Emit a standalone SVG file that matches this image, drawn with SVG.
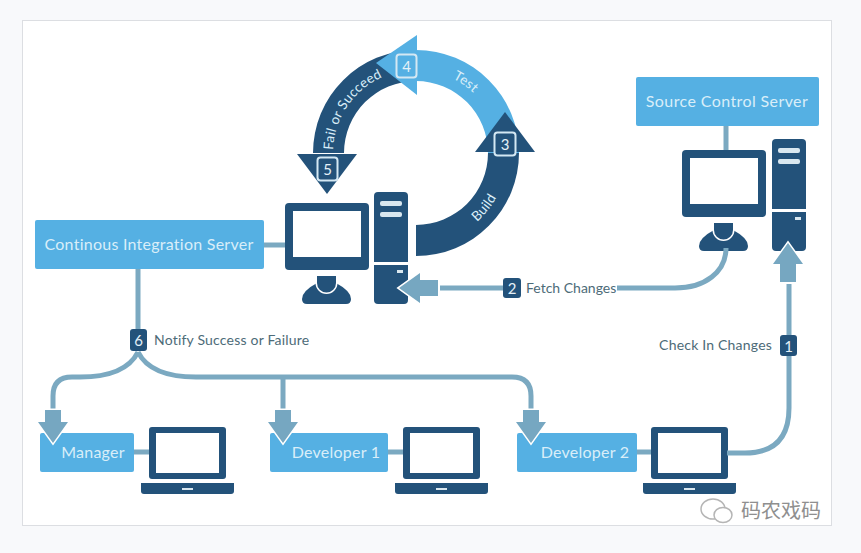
<svg xmlns="http://www.w3.org/2000/svg" xmlns:xlink="http://www.w3.org/1999/xlink" width="861" height="553" viewBox="0 0 861 553">
<style>
.t{font-family:Lato,"Open Sans","Liberation Sans",sans-serif}
.box{fill:#55b0e3}
.boxt{fill:#d9eef9;font-size:16px;text-anchor:middle;dominant-baseline:central;letter-spacing:.25px}
.lab{fill:#4d6b78;font-size:14px;dominant-baseline:central;letter-spacing:.15px}
.dark{fill:#23527a}
.white{fill:#fff}
.line{fill:none;stroke:#7ba9c1;stroke-width:5}
.arrow{fill:#76a7c1;stroke:#fff;stroke-width:3;paint-order:stroke}
.badge{fill:#23527a}
.bt{fill:#e4f1f8;font-size:15px;text-anchor:middle;dominant-baseline:central}
.ring{stroke:#d4e8f3;stroke-width:2}
.arct{fill:#d9eef9;font-size:13.5px;text-anchor:middle;letter-spacing:.3px}
</style>
<defs>
<g id="tower">
<path class="dark" d="M4 0H30Q34 0 34 4V70H0V4Q0 0 4 0Z"/>
<path class="dark" d="M0 73H34V108Q34 112 30 112H4Q0 112 0 108Z"/>
<rect x="6" y="9" width="22" height="5" rx="2" fill="#d9e7ef"/>
<rect x="6" y="20" width="22" height="5" rx="2" fill="#d9e7ef"/>
<rect x="23" y="78" width="6" height="3" fill="#d9e7ef"/>
</g>
<g id="monitor">
<rect class="dark" width="84" height="67" rx="4"/>
<rect class="white" x="8" y="8" width="68" height="46"/>
<path class="dark" d="M22 101Q17 101 17 96Q17 88 32 80H51Q66 88 66 96Q66 101 61 101Z"/>
<path class="dark" d="M32 73H51V80A9.500 9.500 0 0 1 32 80Z" stroke="#fff" stroke-width="3" paint-order="stroke"/>
</g>
<g id="laptop">
<rect class="dark" width="77" height="52" rx="3"/>
<rect class="white" x="7" y="6" width="63" height="40"/>
<path class="dark" d="M-8 56H85V64Q85 67 82 67H-5Q-8 67-8 64Z"/>
<rect x="33" y="61" width="11" height="2" fill="#d9e7ef"/>
</g>
<polygon id="arr" class="arrow" points="-8,-33 8,-33 8,-21 15,-21 0,0 -15,-21 -8,-21"/>
<polygon id="arrLong" class="arrow" points="-8,-39 8,-39 8,-21 15,-21 0,0 -15,-21 -8,-21"/>
</defs>

<rect width="861" height="553" fill="#f8f9fb"/>
<rect x="22.500" y="20.500" width="809" height="505" fill="#fff" stroke="#dcdee2"/>

<g id="node-ci-server">
<rect class="box" x="35" y="220" width="229" height="49" rx="2"/>
<text class="t boxt" x="149" y="243">Continous Integration Server</text>
<use xlink:href="#monitor" href="#monitor" x="285" y="203"/>
<use xlink:href="#tower" href="#tower" x="374" y="192"/>
</g>
<g id="node-source-control">
<rect class="box" x="636" y="77" width="183" height="49" rx="2"/>
<text class="t boxt" x="727" y="100" style="letter-spacing:.4px">Source Control Server</text>
<use xlink:href="#monitor" href="#monitor" x="682" y="150"/>
<use xlink:href="#tower" href="#tower" x="772" y="139"/>
</g>
<g id="node-manager">
<rect class="box" x="40" y="433" width="94" height="39" rx="2"/>
<text class="t boxt" x="93" y="451">Manager</text>
<use xlink:href="#laptop" href="#laptop" x="149" y="427"/>
</g>
<g id="node-developer-1">
<rect class="box" x="270" y="433" width="118" height="39" rx="2"/>
<text class="t boxt" x="336" y="451">Developer 1</text>
<use xlink:href="#laptop" href="#laptop" x="403" y="427"/>
</g>
<g id="node-developer-2">
<rect class="box" x="517" y="433" width="120" height="39" rx="2"/>
<text class="t boxt" x="585" y="451">Developer 2</text>
<use xlink:href="#laptop" href="#laptop" x="651" y="427"/>
</g>

<g id="cycle">
<path class="dark" d="M416 50A103 103 0 0 0 313 153H344A72 72 0 0 1 416 81Z"/>
<polygon class="dark" points="297,154 357,154 327,194"/>
<path class="box" d="M416 50A103 103 0 0 1 519 153H488A72 72 0 0 0 416 81Z"/>
<polygon class="box" points="417,35 417,95 376,63"/>
<path class="dark" d="M416 225A72 72 0 0 0 488 153H519A103 103 0 0 1 416 256Z"/>
<polygon class="dark" points="475,152 535,152 505,112"/>
<path id="arcL" d="M333 153A83 83 0 0 1 416 70" fill="none"/>
<path id="arcR" d="M416 70A83 83 0 0 1 499 153" fill="none"/>
<path id="arcB" d="M416 245A92 92 0 0 0 508 153" fill="none"/>
<text class="t arct"><textPath xlink:href="#arcL" href="#arcL" startOffset="38%">Fail or Succeed</textPath></text>
<text class="t arct"><textPath xlink:href="#arcR" href="#arcR" startOffset="39%">Test</textPath></text>
<text class="t arct"><textPath xlink:href="#arcB" href="#arcB" startOffset="57%">Build</textPath></text>
<rect class="badge ring" x="494.500" y="132.500" width="21" height="23" rx="3"/>
<text class="t bt" x="505" y="144">3</text>
<rect class="ring" fill="#55b0e3" x="396.500" y="54.500" width="20" height="23" rx="3"/>
<text class="t bt" x="406.500" y="66">4</text>
<rect class="badge ring" x="317.500" y="157.500" width="20" height="23" rx="3"/>
<text class="t bt" x="327.500" y="169">5</text>
</g>

<g id="connectors">
<path class="line" d="M264 245H285"/>
<path class="line" d="M138 269V329"/>
<path class="line" d="M138 352C130 368 110 377 80 377H72Q53 377 53 396V410"/>
<path class="line" d="M138 352C146 368 166 377 196 377H512Q531 377 531 396V410"/>
<path class="line" d="M283 377V410"/>
<path class="line" d="M134 452H149"/>
<path class="line" d="M388 452H403"/>
<path class="line" d="M637 452H651"/>
<path class="line" d="M440 288H503"/>
<path class="line" d="M617 288H675C705 288 726 272 726 248"/>
<path class="line" d="M726 126V150"/>
<path class="line" d="M727 453H745Q789 453 789 408V284"/>
<use xlink:href="#arr" href="#arr" transform="translate(53 443)"/>
<use xlink:href="#arr" href="#arr" transform="translate(283 443)"/>
<use xlink:href="#arr" href="#arr" transform="translate(531 443)"/>
<use xlink:href="#arrLong" href="#arrLong" transform="translate(399 288) rotate(90)"/>
<use xlink:href="#arrLong" href="#arrLong" transform="translate(788 243) rotate(180)"/>
</g>

<g id="label-1">
<rect class="badge" x="780" y="335" width="17" height="21" rx="3"/>
<text class="t bt" x="788.500" y="345.500">1</text>
<text class="t lab" x="772" y="344" text-anchor="end" style="letter-spacing:.2px">Check In Changes</text>
</g>
<g id="label-2">
<rect class="badge" x="503" y="278" width="18" height="20" rx="3"/>
<text class="t bt" x="512" y="288">2</text>
<text class="t lab" x="526" y="287" style="letter-spacing:0">Fetch Changes</text>
</g>
<g id="label-6">
<rect class="badge" x="130" y="329" width="17" height="22" rx="3"/>
<text class="t bt" x="138.500" y="340">6</text>
<text class="t lab" x="154" y="339" style="letter-spacing:.2px">Notify Success or Failure</text>
</g>

<g id="watermark">
<ellipse cx="713" cy="509" rx="12" ry="10" fill="#fff" stroke="#b5b5b5" stroke-width="1.500"/>
<ellipse cx="723" cy="515" rx="9" ry="7.500" fill="#fff" stroke="#b5b5b5" stroke-width="1.500"/>
<text x="781" y="518" font-size="20" text-anchor="middle" fill="#8f8f8f" font-family="'Noto Sans CJK SC',sans-serif">码农戏码</text>
</g>
</svg>
